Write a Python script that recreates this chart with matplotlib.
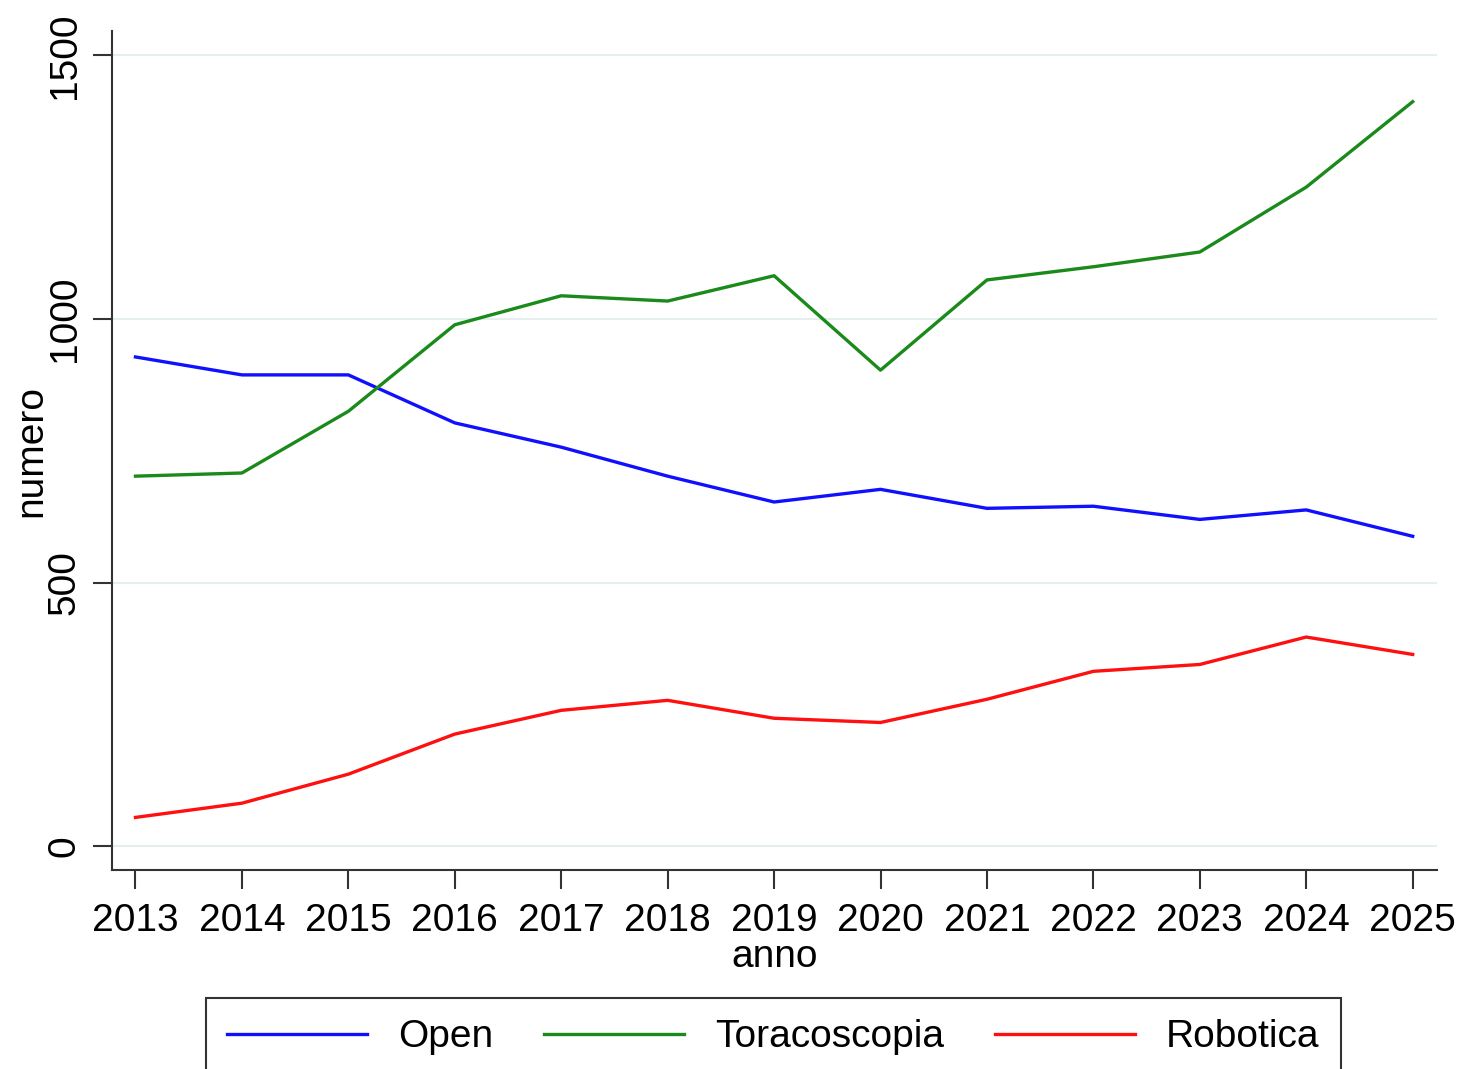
import matplotlib
matplotlib.use('Agg')
from matplotlib import pyplot as plt

years = [2013, 2014, 2015, 2016, 2017, 2018, 2019, 2020, 2021, 2022, 2023, 2024, 2025]
open_vals = [928, 894, 894, 803, 757, 702, 653, 677, 641, 645, 620, 638, 588]
toraco_vals = [702, 708, 825, 989, 1044, 1034, 1082, 903, 1074, 1099, 1127, 1250, 1412]
robot_vals = [55, 82, 137, 213, 258, 277, 243, 235, 279, 332, 345, 397, 364]
y_ticks = [0, 500, 1000, 1500]

plt.rcParams['font.family'] = ['Liberation Sans', 'DejaVu Sans']

fig = plt.figure(figsize=(14.65, 10.69), dpi=100)
ax = fig.add_axes([0.0765, 0.186, 0.9045, 0.785])

ax.plot(years, open_vals, color='#1010ff', linewidth=2.4, label='Open')
ax.plot(years, toraco_vals, color='#1a8a1a', linewidth=2.4, label='Toracoscopia')
ax.plot(years, robot_vals, color='#ff1010', linewidth=2.4, label='Robotica')

ax.set_xlim(2012.78, 2025.23)
ax.set_ylim(-45, 1546)
ax.set_xticks(years)
ax.set_yticks(y_ticks)
ax.set_yticklabels([str(v) for v in y_ticks], rotation=90, va='center')

ax.grid(axis='y', color='#e6eeef', linewidth=1.5)
ax.set_axisbelow(True)
for side in ['top', 'right']:
    ax.spines[side].set_visible(False)
for side in ['left', 'bottom']:
    ax.spines[side].set_linewidth(1.5)
    ax.spines[side].set_color('#333333')

ax.tick_params(axis='both', labelsize=28, length=14, width=1.5, color='#333333')
ax.tick_params(axis='x', pad=10)
ax.tick_params(axis='y', pad=7)
ax.set_xlabel('anno', fontsize=28, labelpad=0)
ax.set_ylabel('numero', fontsize=28, labelpad=-2)

# legend box runs past the bottom edge, as in the source image
leg = fig.legend(loc='upper center', bbox_to_anchor=(0.528, 0.0665), ncol=3,
                 fontsize=28, handlelength=3.6, columnspacing=1.3,
                 fancybox=False, edgecolor='#333333', framealpha=1,
                 borderpad=0.55, borderaxespad=0)
leg.get_frame().set_linewidth(1.5)

fig.savefig('out.png', dpi=100)
